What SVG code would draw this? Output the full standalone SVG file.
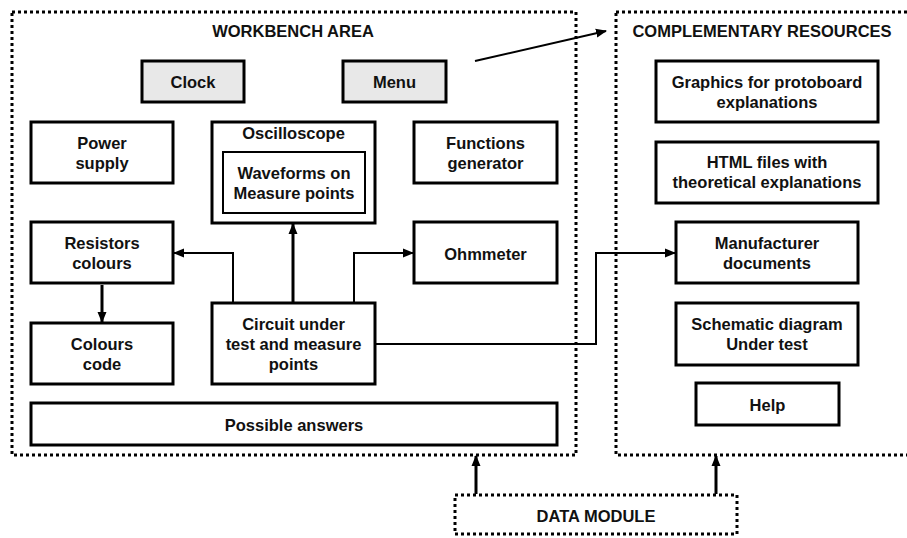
<svg xmlns="http://www.w3.org/2000/svg" width="907" height="538" viewBox="0 0 907 538">
<style>
.box{fill:#fff;stroke:#000;stroke-width:3}
.grey{fill:#e8e8e8;stroke:#000;stroke-width:3}
.inner{fill:#fff;stroke:#000;stroke-width:2}
.area{fill:none;stroke:#000;stroke-width:3;stroke-dasharray:3 3}
.t{font-family:"Liberation Sans",Arial,sans-serif;font-weight:bold;font-size:16.5px;text-anchor:middle;fill:#111}
.c2{fill:none;stroke:#000;stroke-width:2}
.c3{fill:none;stroke:#000;stroke-width:3}
</style>
<defs>
<marker id="ah" markerUnits="userSpaceOnUse" markerWidth="11" markerHeight="10" refX="10" refY="5" orient="auto">
<path d="M0,0.5 L11,5 L0,9.5 Z" fill="#000"/>
</marker>
</defs>
<rect width="907" height="538" fill="#fff"/>
<g id="workbench-area">
<rect class="area" x="12" y="12" width="564" height="443"/>
<text class="t" x="293" y="37">WORKBENCH AREA</text>
</g>
<g id="complementary-resources">
<rect class="area" x="616" y="12" width="300" height="443"/>
<text class="t" x="762" y="37">COMPLEMENTARY RESOURCES</text>
</g>
<g id="data-module">
<rect class="area" x="455" y="495" width="282" height="39"/>
<text class="t" x="596" y="522">DATA MODULE</text>
</g>
<g id="clock"><rect class="grey" x="142" y="61" width="102" height="41"/><text class="t" x="193" y="88">Clock</text></g>
<g id="menu"><rect class="grey" x="343" y="61" width="103" height="41"/><text class="t" x="394.5" y="88">Menu</text></g>
<g id="power-supply"><rect class="box" x="31" y="122" width="142" height="61"/><text class="t" x="102" y="149">Power</text><text class="t" x="102" y="169">supply</text></g>
<g id="oscilloscope"><rect class="box" x="212" y="122" width="163" height="101"/><text class="t" x="293.5" y="139">Oscilloscope</text>
<g id="waveforms"><rect class="inner" x="223" y="152" width="142" height="61"/><text class="t" x="294" y="179">Waveforms on</text><text class="t" x="294" y="199">Measure points</text></g></g>
<g id="functions-generator"><rect class="box" x="414" y="122" width="143" height="61"/><text class="t" x="485.5" y="149">Functions</text><text class="t" x="485.5" y="169">generator</text></g>
<g id="resistors-colours"><rect class="box" x="31" y="222" width="142" height="61"/><text class="t" x="102" y="249">Resistors</text><text class="t" x="102" y="269">colours</text></g>
<g id="ohmmeter"><rect class="box" x="414" y="222" width="143" height="61"/><text class="t" x="485.5" y="260">Ohmmeter</text></g>
<g id="colours-code"><rect class="box" x="31" y="323" width="142" height="61"/><text class="t" x="102" y="350">Colours</text><text class="t" x="102" y="370">code</text></g>
<g id="circuit"><rect class="box" x="212" y="303" width="163" height="81"/><text class="t" x="293.5" y="330">Circuit under</text><text class="t" x="293.5" y="350">test and measure</text><text class="t" x="293.5" y="370">points</text></g>
<g id="possible-answers"><rect class="box" x="31" y="403" width="526" height="42"/><text class="t" x="294" y="431">Possible answers</text></g>
<g id="graphics"><rect class="box" x="656" y="61" width="222" height="61"/><text class="t" x="767" y="88">Graphics for protoboard</text><text class="t" x="767" y="108">explanations</text></g>
<g id="html-files"><rect class="box" x="656" y="142" width="222" height="61"/><text class="t" x="767" y="168">HTML files with</text><text class="t" x="767" y="188">theoretical explanations</text></g>
<g id="manufacturer"><rect class="box" x="676" y="222" width="182" height="61"/><text class="t" x="767" y="249">Manufacturer</text><text class="t" x="767" y="269">documents</text></g>
<g id="schematic"><rect class="box" x="676" y="303" width="182" height="62"/><text class="t" x="767" y="330">Schematic diagram</text><text class="t" x="767" y="350">Under test</text></g>
<g id="help"><rect class="box" x="696" y="383" width="143" height="42"/><text class="t" x="767.5" y="411">Help</text></g>
<g id="connectors">
<path class="c3" d="M293,302 V224" marker-end="url(#ah)"/>
<path class="c2" d="M233,302 V253 H174" marker-end="url(#ah)"/>
<path class="c2" d="M354,302 V253 H413" marker-end="url(#ah)"/>
<path class="c3" d="M102,285 V322" marker-end="url(#ah)"/>
<path class="c2" d="M376,344 H596 V253 H675" marker-end="url(#ah)"/>
<path class="c2" d="M475,61 L606,31" marker-end="url(#ah)"/>
<path class="c3" d="M476,494 V456" marker-end="url(#ah)"/>
<path class="c3" d="M716,494 V456" marker-end="url(#ah)"/>
</g>
</svg>
